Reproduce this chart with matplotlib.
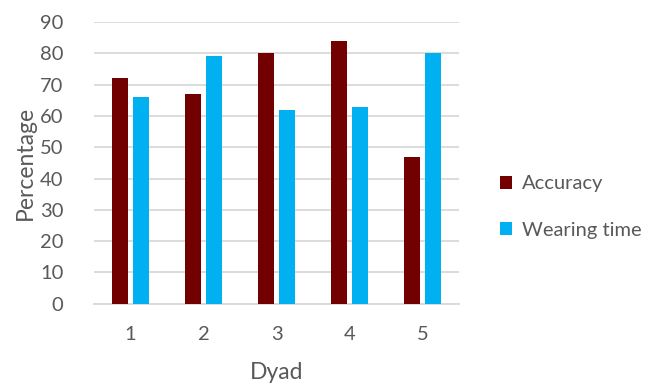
import matplotlib
matplotlib.use("Agg")
import matplotlib.pyplot as plt
import numpy as np

categories = ["1", "2", "3", "4", "5"]
accuracy = [72, 67, 80, 84, 47]
wearing_time = [66, 79, 62, 63, 80]
series_names = ["Accuracy", "Wearing time"]
yticks = [0, 10, 20, 30, 40, 50, 60, 70, 80, 90]

plt.rcParams['font.family'] = ['Lato', 'DejaVu Sans']
txt = '#595959'
grid = '#D9D9D9'
c_acc = '#730000'
c_wear = '#00B0F0'

fig = plt.figure(figsize=(6.54, 3.85), dpi=100)
ax = fig.add_axes([94/654, 1-303.7/385, (459-94)/654, (303.7-22)/385])

x = np.arange(len(categories))
w = 0.22
off = 0.145
ax.bar(x - off, accuracy, width=w, color=c_acc, label=series_names[0], zorder=3)
ax.bar(x + off, wearing_time, width=w, color=c_wear, label=series_names[1], zorder=3)

ax.set_xlim(-0.5, len(categories) - 0.5)
ax.set_ylim(0, 90)
ax.set_yticks(yticks)
ax.set_xticks(x)
ax.set_xticklabels(categories)
ax.yaxis.grid(True, color=grid, linewidth=1.3, zorder=0)
ax.set_axisbelow(True)
for s in ['top', 'right', 'left']:
    ax.spines[s].set_visible(False)
ax.spines['bottom'].set_color(grid)
ax.spines['bottom'].set_linewidth(1.3)
ax.tick_params(axis='both', length=0, colors=txt, labelsize=14.5)
ax.tick_params(axis='y', pad=22)
ax.tick_params(axis='x', pad=16)
ax.set_ylabel("Percentage", color=txt, fontsize=16.5, labelpad=3)
ax.set_xlabel("Dyad", color=txt, fontsize=16.5, labelpad=14)

leg = fig.legend(loc='center left', bbox_to_anchor=(500/654, 1-207/385), frameon=False,
                 borderaxespad=0, borderpad=0,
                 fontsize=14.5, labelcolor=txt, handlelength=0.6, handleheight=0.6,
                 handletextpad=0.5, labelspacing=1.45)

fig.savefig("out.png", dpi=100)
